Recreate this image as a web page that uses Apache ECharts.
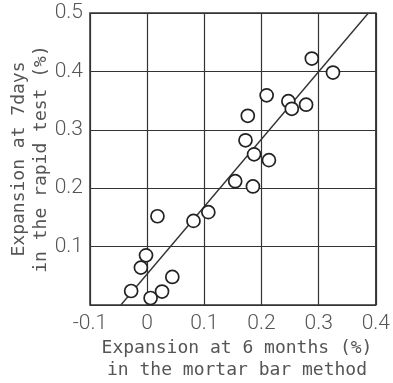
<!DOCTYPE html>
<html>
<head>
<meta charset="utf-8">
<script src="https://cdn.jsdelivr.net/npm/echarts@6/dist/echarts.min.js"></script>
<style>html,body{margin:0;padding:0;background:#fff;}#c{width:393px;height:383px;}</style>
</head>
<body>
<div id="c"></div>
<script>
// Data
var mortarX = [0.288, 0.325, 0.209, 0.247, 0.253, 0.278, 0.176, 0.172, 0.187, 0.213, 0.154, 0.185, 0.107, 0.081, 0.018, -0.002, -0.011, 0.044, -0.028, 0.026, 0.006];
var rapidY  = [0.422, 0.398, 0.359, 0.349, 0.336, 0.343, 0.324, 0.282, 0.258, 0.248, 0.212, 0.203, 0.159, 0.144, 0.152, 0.085, 0.064, 0.048, 0.024, 0.023, 0.012];
var fitX = [-0.046, 0.387];
var fitY = [0, 0.5];
var xTickLabels = ['-0.1', '0', '0.1', '0.2', '0.3', '0.4'];
var yTickLabels = ['', '0.1', '0.2', '0.3', '0.4', '0.5'];
var xTitle = 'Expansion at 6 months (%)\nin the mortar bar method';
var yTitle = 'Expansion at 7days\nin the rapid test (%)';

var pts = mortarX.map(function (x, i) { return [x, rapidY[i]]; });
var fit = fitX.map(function (x, i) { return [x, fitY[i]]; });

var labelFont = 'Roboto, sans-serif';
var titleFont = '"DejaVu Sans Mono", monospace';
var ink = '#333';
var txt = '#555';

var chart = echarts.init(document.getElementById('c'), null, {renderer: 'canvas'});
chart.setOption({
  backgroundColor: '#fff',
  animation: false,
  grid: {left: 90, right: 9, top: 13, bottom: 78, show: true, borderColor: ink, borderWidth: 1.5},
  xAxis: {
    type: 'value', min: -0.1, max: 0.4, interval: 0.1,
    axisLine: {show: false}, axisTick: {show: false},
    splitLine: {show: true, lineStyle: {color: ink, width: 1.2}},
    axisLabel: {
      color: txt, fontFamily: labelFont, fontWeight: 300, fontSize: 21, margin: 8,
      formatter: function (v) { var i = Math.round((v + 0.1) / 0.1); return xTickLabels[i]; }
    }
  },
  yAxis: {
    type: 'value', min: 0, max: 0.5, interval: 0.1,
    axisLine: {show: false}, axisTick: {show: false},
    splitLine: {show: true, lineStyle: {color: ink, width: 1.2}},
    axisLabel: {
      color: txt, fontFamily: labelFont, fontWeight: 300, fontSize: 21, margin: 7,
      formatter: function (v) { var i = Math.round(v / 0.1); return yTickLabels[i]; }
    }
  },
  graphic: [
    {type: 'text', x: 237, y: 337, style: {text: xTitle, font: '18px ' + titleFont, fill: txt, textAlign: 'center', lineHeight: 22}},
    {type: 'text', rotation: Math.PI / 2, x: 30, y: 159, style: {text: yTitle, font: '18px ' + titleFont, fill: txt, textAlign: 'center', textVerticalAlign: 'middle', lineHeight: 22}}
  ],
  series: [
    {type: 'line', data: fit, symbol: 'none', lineStyle: {color: ink, width: 1.4}, z: 2},
    {type: 'scatter', data: pts, symbol: 'circle', symbolSize: 13,
     itemStyle: {color: '#fff', borderColor: '#222', borderWidth: 1.7, opacity: 1}, z: 3}
  ]
});
</script>
</body>
</html>
